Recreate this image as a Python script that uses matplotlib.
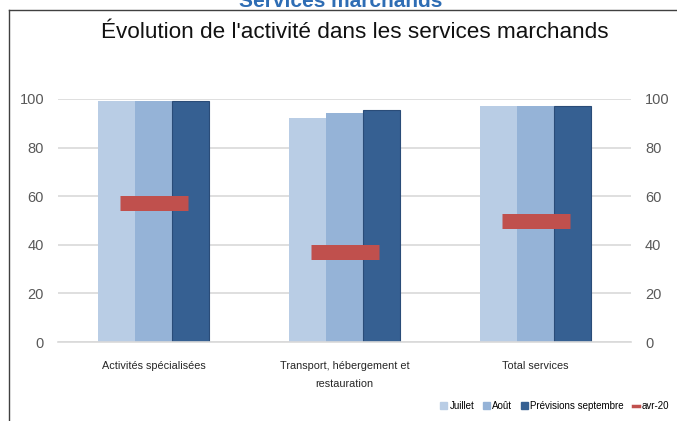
import numpy as np
import matplotlib.pyplot as plt
from matplotlib.patches import Patch
from matplotlib.lines import Line2D

categories = ["Activités spécialisées", "Transport, hébergement et\nrestauration", "Total services"]
juillet = [99, 92, 97]
aout = [99, 94.2, 97]
septembre = [99, 95.3, 97]
avr20 = [57, 37, 50]
series_names = ["Juillet", "Août", "Prévisions septembre", "avr-20"]
yticks = [0, 20, 40, 60, 80, 100]

plt.rcParams['font.family'] = ['Liberation Sans', 'DejaVu Sans']

fig = plt.figure(figsize=(6.77, 4.21), dpi=100)
ax = fig.add_axes([58/677, 1-342/421, 573/677, 243/421])

x = np.arange(len(categories))
w = 0.194
ax.bar(x - w, juillet, w, color='#B9CDE5', zorder=2)
ax.bar(x, aout, w, color='#95B3D7', zorder=2)
ax.bar(x + w, septembre, w, color='#366092', edgecolor='#2A4C78', linewidth=0.8, zorder=2)
ax.plot(x, avr20, ls='none', marker='_', ms=49, mew=10.8, color='#C0504D', zorder=3)

ax.set_xlim(-0.5, 2.5)
ax.set_ylim(0, 100)
ax.set_yticks(yticks)
ax.yaxis.grid(True, color='#D9D9D9', lw=1.2, zorder=0)
ax.set_axisbelow(True)
for s in ['top', 'right', 'left']:
    ax.spines[s].set_visible(False)
ax.spines['bottom'].set_color('#D9D9D9')
ax.spines['bottom'].set_linewidth(1.2)
ax.tick_params(axis='y', length=0, labelsize=10.5, labelcolor='#595959', pad=10)
ax.tick_params(axis='x', length=0, labelsize=7.8, labelcolor='#262626', pad=14)
ax.set_xticks(x)
ax.set_xticklabels(categories, linespacing=1.9, va='top')

ax2 = ax.twinx()
ax2.set_ylim(0, 100)
ax2.set_yticks(yticks)
for s in ax2.spines.values():
    s.set_visible(False)
ax2.tick_params(axis='y', length=0, labelsize=10.5, labelcolor='#595959', pad=10)

handles = [Patch(color='#B9CDE5'), Patch(color='#95B3D7'), Patch(color='#366092'),
           Line2D([], [], color='#C0504D', lw=2.5)]
fig.legend(handles, series_names, loc='center', bbox_to_anchor=(555/677, 1-406/421),
           ncol=4, frameon=False, fontsize=7.0, handlelength=0.65, handleheight=0.65,
           handletextpad=0.3, columnspacing=0.9)

fig.text(355/677, 1-33/421, "Évolution de l'activité dans les services marchands",
         ha='center', va='center', fontsize=16.2, color='#111111')
fig.text(341/677, 1-7/421, "Services marchands", ha='center', va='baseline',
         fontsize=15, fontweight='bold', color='#2E6DB4')

# chart frame (cut by the screenshot on the right and bottom)
fig.add_artist(Line2D([8.5/677, 8.5/677], [0, 1-10/421], color='#404040', lw=1))
fig.add_artist(Line2D([8.5/677, 1], [1-10/421, 1-10/421], color='#404040', lw=1))

fig.savefig('out.png', dpi=100)
